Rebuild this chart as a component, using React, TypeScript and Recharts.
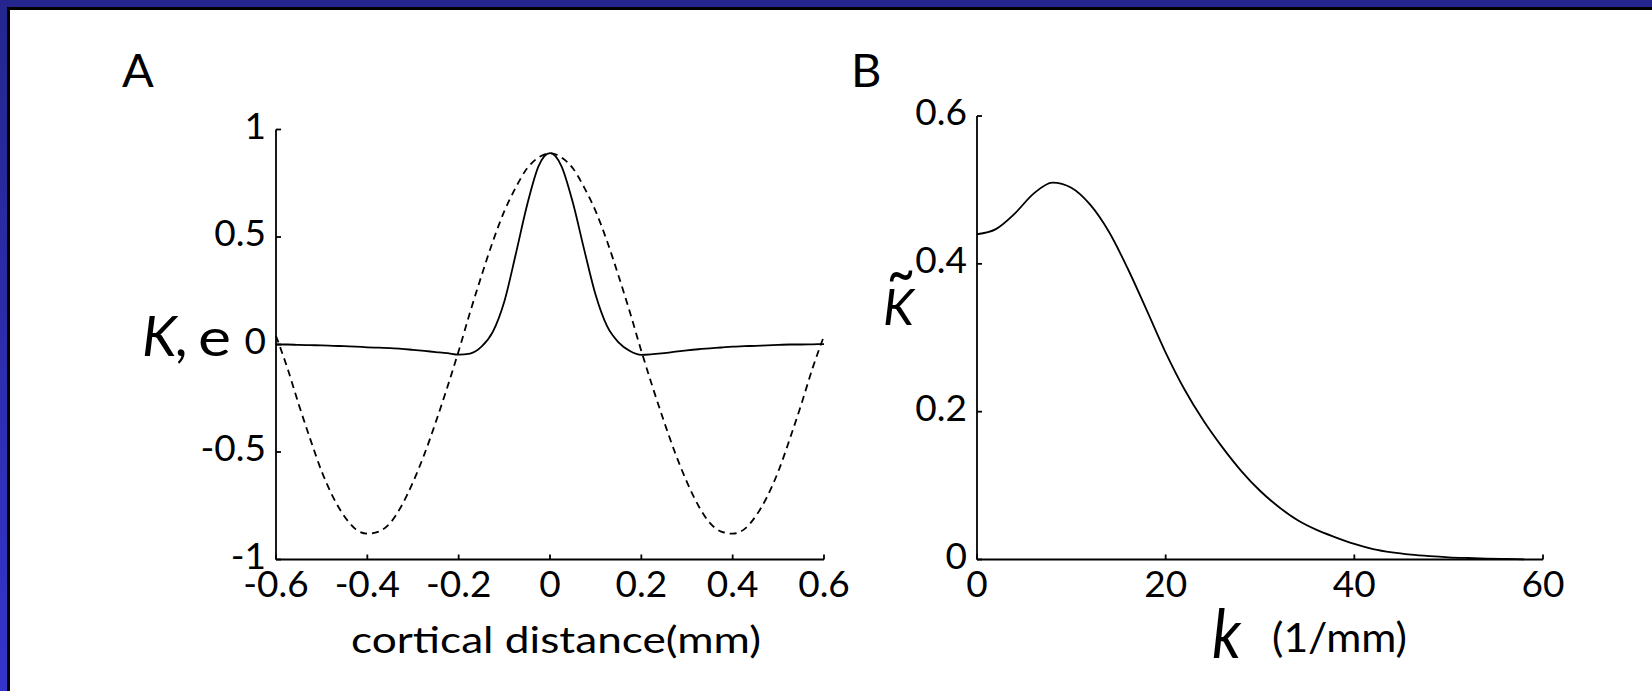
import React from 'react';
import { LineChart, Line, XAxis, YAxis } from 'recharts';

// panel A: spatial kernel K (solid) and its envelope e (dashed)
const distance = [
  -0.6, -0.575, -0.55, -0.525, -0.5, -0.475, -0.45, -0.425, -0.4, -0.375, -0.35, -0.325,
  -0.3, -0.275, -0.25, -0.225, -0.2, -0.175, -0.15, -0.125, -0.1, -0.075, -0.05, -0.025,
  0, 0.025, 0.05, 0.075, 0.1, 0.125, 0.15, 0.175, 0.2, 0.225, 0.25, 0.275, 0.3, 0.325,
  0.35, 0.375, 0.4, 0.425, 0.45, 0.475, 0.5, 0.525, 0.55, 0.575, 0.6,
];
const kernel = [
  0.0, 0.0, -0.002, -0.003, -0.004, -0.006, -0.008, -0.01, -0.013, -0.015, -0.017, -0.02,
  -0.025, -0.03, -0.035, -0.04, -0.047, -0.042, -0.01, 0.06, 0.2, 0.42, 0.65, 0.83,
  0.89, 0.83, 0.66, 0.44, 0.23, 0.085, 0.01, -0.03, -0.048, -0.045, -0.04, -0.033, -0.027, -0.022,
  -0.018, -0.014, -0.01, -0.008, -0.006, -0.004, -0.002, 0.0, 0.0, 0.001, 0.002,
];
const envelope = [
  0.04, -0.11, -0.28, -0.44, -0.59, -0.71, -0.8, -0.86, -0.88, -0.87, -0.83, -0.75,
  -0.64, -0.51, -0.36, -0.2, -0.03, 0.15, 0.32, 0.48, 0.62, 0.73, 0.82, 0.87,
  0.89, 0.87, 0.82, 0.73, 0.62, 0.48, 0.32, 0.15, -0.03, -0.2, -0.36, -0.51, -0.64, -0.75,
  -0.83, -0.87, -0.88, -0.86, -0.8, -0.71, -0.59, -0.44, -0.28, -0.11, 0.04,
];
const distanceTicks = [-0.6, -0.4, -0.2, 0, 0.2, 0.4, 0.6];
const kernelTicks = [-1, -0.5, 0, 0.5, 1];

// panel B: Fourier transform of the kernel
const freq = [
  0, 2, 4, 6, 8, 10, 12, 14, 16, 18, 20, 22, 24, 26, 28, 30, 32, 34, 36, 38, 40, 42, 44,
  46, 48, 50, 52, 54, 56, 58,
];
const kernelFT = [
  0.44, 0.447, 0.468, 0.495, 0.51, 0.503, 0.48, 0.443, 0.393, 0.337, 0.28, 0.23, 0.188,
  0.152, 0.12, 0.093, 0.071, 0.053, 0.04, 0.03, 0.021, 0.014, 0.0095, 0.0065, 0.0045, 0.003,
  0.002, 0.0012, 0.0007, 0.0003,
];
const freqTicks = [0, 20, 40, 60];
const ftTicks = [0, 0.2, 0.4, 0.6];

const dataA = distance.map((d, i) => ({ d, K: kernel[i], e: envelope[i] }));
const dataB = freq.map((k, i) => ({ k, ft: kernelFT[i] }));

const FONT = 'Lato, "DejaVu Sans", sans-serif';
const TICK_FONT = 37;

const XTick = (props: any) => {
  const { x, y, payload } = props;
  return (
    <g>
      <line x1={x} y1={y} x2={x} y2={y - 5} stroke="#000" strokeWidth={1.8} />
      <text x={x} y={y + 37} textAnchor="middle" fontSize={TICK_FONT} fontFamily={FONT} fill="#000">
        {String(payload.value)}
      </text>
    </g>
  );
};

const YTick = (props: any) => {
  const { x, y, payload } = props;
  return (
    <g>
      <line x1={x} y1={y} x2={x + 5} y2={y} stroke="#000" strokeWidth={1.8} />
      <text x={x - 10} y={y + 9} textAnchor="end" fontSize={TICK_FONT} fontFamily={FONT} fill="#000">
        {String(payload.value)}
      </text>
    </g>
  );
};

const axisLine = { stroke: '#000', strokeWidth: 1.8 };

export default function App() {
  return (
    <div
      style={{
        position: 'absolute',
        left: 0,
        top: 0,
        width: 1652,
        height: 691,
        background: '#fff',
        overflow: 'hidden',
      }}
    >
      {/* slide frame: blue bars with a black inner edge, top and left only */}
      <div style={{ position: 'absolute', left: 0, top: 0, width: 1652, height: 7, background: '#25258e' }} />
      <div
        style={{
          position: 'absolute',
          left: 0,
          top: 0,
          width: 7,
          height: 691,
          background: 'linear-gradient(to bottom, #25258e, #3434cc)',
        }}
      />
      <div style={{ position: 'absolute', left: 7, top: 7, width: 1645, height: 3, background: '#000' }} />
      <div style={{ position: 'absolute', left: 7, top: 7, width: 3, height: 684, background: '#000' }} />

      {/* A */}
      <div style={{ position: 'absolute', left: 0, top: 0 }}>
        <LineChart
          width={850}
          height={691}
          data={dataA}
          margin={{ top: 129.5, left: 275, right: 26, bottom: 130.5 }}
        >
          <XAxis
            dataKey="d"
            type="number"
            domain={[-0.6, 0.6]}
            ticks={distanceTicks}
            interval={0}
            height={1}
            tickSize={0}
            tickMargin={0}
            tickLine={false}
            axisLine={axisLine}
            tick={<XTick />}
          />
          <YAxis
            type="number"
            domain={[-1, 1]}
            ticks={kernelTicks}
            interval={0}
            width={1}
            tickSize={0}
            tickMargin={0}
            tickLine={false}
            axisLine={axisLine}
            tick={<YTick />}
          />
          <Line
            type="monotone"
            dataKey="e"
            stroke="#000"
            strokeWidth={1.8}
            strokeDasharray="7 5"
            dot={false}
            activeDot={false}
            isAnimationActive={false}
          />
          <Line
            type="monotone"
            dataKey="K"
            stroke="#000"
            strokeWidth={1.8}
            dot={false}
            activeDot={false}
            isAnimationActive={false}
          />
        </LineChart>
      </div>

      {/* B */}
      <div style={{ position: 'absolute', left: 850, top: 0 }}>
        <LineChart
          width={802}
          height={691}
          data={dataB}
          margin={{ top: 116, left: 126, right: 109, bottom: 130.5 }}
        >
          <XAxis
            dataKey="k"
            type="number"
            domain={[0, 60]}
            ticks={freqTicks}
            interval={0}
            height={1}
            tickSize={0}
            tickMargin={0}
            tickLine={false}
            axisLine={axisLine}
            tick={<XTick />}
          />
          <YAxis
            type="number"
            domain={[0, 0.6]}
            ticks={ftTicks}
            interval={0}
            width={1}
            tickSize={0}
            tickMargin={0}
            tickLine={false}
            axisLine={axisLine}
            tick={<YTick />}
          />
          <Line
            type="monotone"
            dataKey="ft"
            stroke="#000"
            strokeWidth={1.8}
            dot={false}
            activeDot={false}
            isAnimationActive={false}
          />
        </LineChart>
      </div>

      {/* panel letters and axis titles */}
      <svg
        width={1652}
        height={691}
        style={{ position: 'absolute', left: 0, top: 0, pointerEvents: 'none' }}
        fontFamily={FONT}
        fill="#000"
      >
        <text x={122} y={87} fontSize={47}>A</text>
        <text x={851} y={87} fontSize={47}>B</text>

        <text x={142} y={356} fontSize={56} fontStyle="italic">K,</text>
        <text x={198} y={356} fontSize={52} textLength={33} lengthAdjust="spacingAndGlyphs">e</text>
        <text x={351} y={653} fontSize={36} textLength={410} lengthAdjust="spacingAndGlyphs">
          cortical distance(mm)
        </text>

        <text x={887} y={295} fontSize={64} textLength={28} lengthAdjust="spacingAndGlyphs">~</text>
        <text x={883} y={325} fontSize={50} fontStyle="italic">K</text>
        <text x={1212} y={658} fontSize={68} fontStyle="italic" textLength={29} lengthAdjust="spacingAndGlyphs">k</text>
        <text x={1272} y={652} fontSize={40} textLength={135} lengthAdjust="spacingAndGlyphs">
          (1/mm)
        </text>
      </svg>
    </div>
  );
}
